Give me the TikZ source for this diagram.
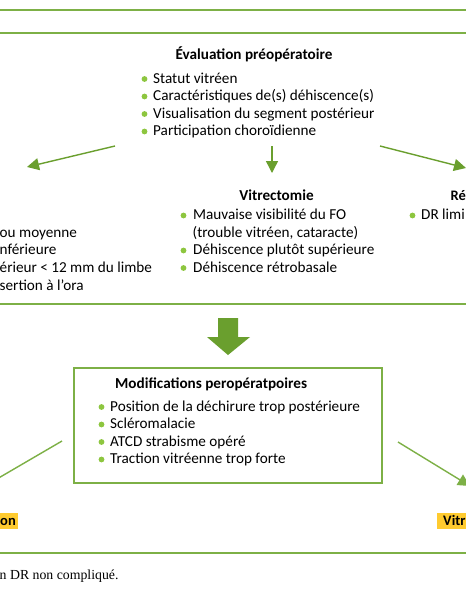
\documentclass[tikz,border=0pt]{standalone}
\usepackage{fontspec}
\setmainfont{Carlito}
\newfontfamily\footfont{Liberation Serif}
\usetikzlibrary{arrows.meta}
\definecolor{rulegreen}{HTML}{7DB046}
\definecolor{arrgreen}{HTML}{6A9F2E}
\definecolor{bulgreen}{HTML}{8DC63F}
\definecolor{labyellow}{HTML}{FFCB2F}
\tikzset{
  txt/.style={anchor=base west, inner sep=0pt, font=\fontsize{15.2}{17}\selectfont},
  head/.style={anchor=base, inner sep=0pt, font=\bfseries\fontsize{15.2}{17}\selectfont},
  hrule/.style={draw=rulegreen, line width=1.4pt},
  conn/.style={draw=arrgreen, line width=1.4pt, -{Triangle[length=12pt,width=12pt]}},
  plainconn/.style={draw=rulegreen, line width=1.4pt},
  bul/.style={fill=bulgreen},
  box/.style={draw=rulegreen, line width=1.5pt},
  lab/.style={inner sep=0pt, font=\bfseries\fontsize{14.5}{17}\selectfont}
}
\begin{document}
\begin{tikzpicture}[x=1pt,y=-1pt]
\useasboundingbox (0,0) rectangle (466,600);
\clip (0,0) rectangle (466,600);
\fill[white] (0,0) rectangle (466,600);
% rules
\draw[hrule] (0,10) -- (466,10);
\draw[hrule] (0,33) -- (466,33);
\draw[hrule] (0,304) -- (466,304);
\draw[hrule] (0,553) -- (466,553);
% evaluation
\node[head] (eval) at (254,59) {Évaluation préopératoire};
\fill[bul] (144.5,79) circle (2.9);
\node[txt] (e1) at (153,83) {Statut vitréen};
\fill[bul] (144.5,96.5) circle (2.9);
\node[txt] (e2) at (153,100.5) {Caractéristiques de(s) déhiscence(s)};
\fill[bul] (144.5,114) circle (2.9);
\node[txt] (e3) at (153,118) {Visualisation du segment postérieur};
\fill[bul] (144.5,131.5) circle (2.9);
\node[txt] (e4) at (153,135.5) {Participation choroïdienne};
% arrows from evaluation
\coordinate (aL0) at (115,146);
\coordinate (aL1) at (27,167);
\coordinate (aM0) at (272,146);
\coordinate (aM1) at (272,173);
\coordinate (aR0) at (380,146);
\coordinate (aR1) at (466,168);
\draw[conn] (aL0) -- (aL1);
\draw[conn] (aM0) -- (aM1);
\draw[conn] (aR0) -- (aR1);
% left column (cut)
\node[txt] (l1) at (-0.5,237) {ou moyenne};
\node[txt] (l2) at (-0.5,254.5) {nférieure};
\node[txt] (l3) at (-0.5,272) {érieur < 12 mm du limbe};
\node[txt] (l4) at (-0.5,290) {sertion à l’ora};
% vitrectomie
\node[head] (vit) at (276.5,200) {Vitrectomie};
\fill[bul] (183.5,215.5) circle (2.9);
\node[txt] (v1) at (193,219.5) {Mauvaise visibilité du FO};
\node[txt] (v1b) at (192.5,237) {(trouble vitréen, cataracte)};
\fill[bul] (183.5,250.5) circle (2.9);
\node[txt] (v2) at (193,254.5) {Déhiscence plutôt supérieure};
\fill[bul] (183.5,268) circle (2.9);
\node[txt] (v3) at (193,272) {Déhiscence rétrobasale};
% right column (cut)
\node[head, anchor=base west, font=\bfseries\fontsize{14.5}{17}\selectfont] (re) at (450.5,200) {Ré};
\fill[bul] (412.5,215.5) circle (2.9);
\node[txt] (r1) at (421,219.5) {DR limi};
% big down arrow
\fill[arrgreen] (218,318) -- (238,318) -- (238,337) -- (250,337) -- (228,355) -- (207,337) -- (218,337) -- cycle;
% box
\draw[box] (74,368) rectangle (382,483);
\node[head, anchor=base west] (mod) at (115,388) {Modifications peropératpoires};
\fill[bul] (101.5,407) circle (2.9);
\node[txt] (m1) at (110,411) {Position de la déchirure trop postérieure};
\fill[bul] (101.5,424.5) circle (2.9);
\node[txt] (m2) at (110,428.5) {Scléromalacie};
\fill[bul] (101.5,442) circle (2.9);
\node[txt] (m3) at (110,446) {ATCD strabisme opéré};
\fill[bul] (101.5,459.5) circle (2.9);
\node[txt] (m4) at (110,463.5) {Traction vitréenne trop forte};
% lines from box
\coordinate (bL0) at (62,441);
\coordinate (bL1) at (-10,483);
\coordinate (bR0) at (398,442);
\coordinate (bR1) at (470,486);
\draw[plainconn] (bL0) -- (bL1);
\draw[conn, draw=rulegreen] (bR0) -- (bR1);
% yellow labels
\fill[labyellow] (0,513) rectangle (18,529);
\node[lab, anchor=base west] (lo) at (0,525) {on};
\fill[labyellow] (437,513) rectangle (466,529);
\node[lab, anchor=base west] (lv) at (443,525) {Vitr};
% footer
\node[anchor=base west, inner sep=0pt, font=\footfont\fontsize{13.8}{16}\selectfont] (foot) at (-0.5,579) {n DR non compliqué.};
\end{tikzpicture}
\end{document}
